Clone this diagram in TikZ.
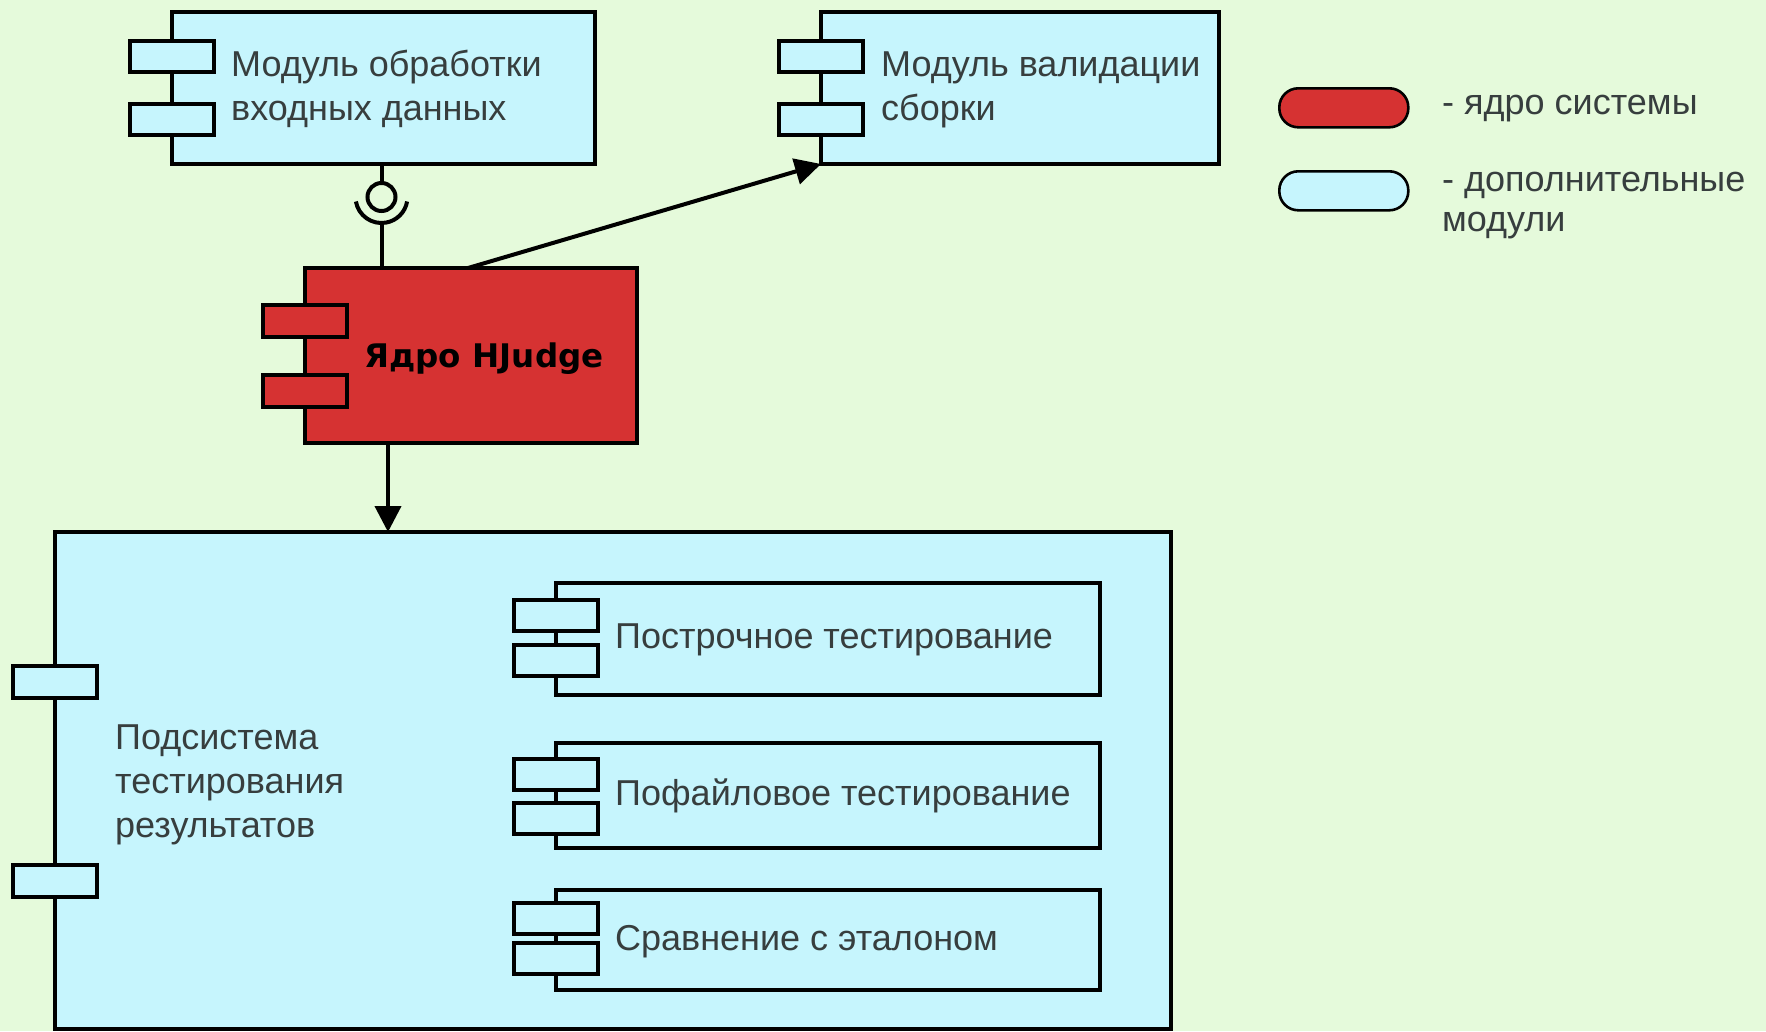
\documentclass[tikz,border=0pt]{standalone}
\usepackage{fontspec}
\setmainfont{Liberation Sans}
\newfontfamily\corefont{DejaVu Sans}
\usetikzlibrary{arrows.meta,calc}
\definecolor{bg}{RGB}{229,250,219}
\definecolor{cyanbox}{RGB}{198,245,253}
\definecolor{redbox}{RGB}{214,50,50}
\definecolor{txt}{RGB}{55,62,62}
\begin{document}
\begin{tikzpicture}[x=1pt,y=-1pt,
  box/.style={draw=black, line width=3.8pt, fill=cyanbox, anchor=north west, inner sep=0pt, outer sep=0pt},
  portc/.style={draw=black, line width=3.6pt, fill=cyanbox, minimum width=84pt, minimum height=31pt, inner sep=0pt, outer sep=0pt, anchor=north},
  lbl/.style={anchor=west, align=left, text=txt, inner sep=0pt, font=\fontsize{36}{41}\selectfont},
  conn/.style={line width=4pt, draw=black},
  tip/.style={-{Triangle[length=26pt,width=26pt]}},
  pill/.style={draw=black, line width=2.6pt, rounded corners=19pt, minimum width=129pt, minimum height=39pt, anchor=north west, inner sep=0pt},
]
\useasboundingbox (0,0) rectangle (1766,1031);
\fill[bg] (0,0) rectangle (1766,1031);

% module 1
\node[box, minimum width=423pt, minimum height=152pt] (m1) at (172,12) {};
\node[portc] (m1p1) at ($(m1.north west)+(0,29)$) {};
\node[portc] (m1p2) at ($(m1.north west)+(0,92)$) {};
\node[lbl, font=\fontsize{36}{44}\selectfont] (m1t) at (231,89) {Модуль обработки\\входных данных};

% module 2
\node[box, minimum width=398pt, minimum height=152pt] (m2) at (821,12) {};
\node[portc] (m2p1) at ($(m2.north west)+(0,29)$) {};
\node[portc] (m2p2) at ($(m2.north west)+(0,92)$) {};
\node[lbl, font=\fontsize{36}{44}\selectfont] (m2t) at (881,90) {Модуль валидации\\сборки};

% core
\node[box, fill=redbox, minimum width=332pt, minimum height=175pt] (core) at (305,268) {};
\node[portc, fill=redbox, minimum height=32pt] (cp1) at ($(core.north west)+(0,37)$) {};
\node[portc, fill=redbox, minimum height=32pt] (cp2) at ($(core.north west)+(0,107)$) {};
\node[anchor=base, inner sep=0pt, font=\corefont\bfseries\fontsize{32.5}{36}\selectfont] (coret) at (484,367) {Ядро HJudge};

% big subsystem
\node[box, minimum width=1116pt, minimum height=497pt] (big) at (55,532) {};
\node[portc, minimum height=32pt] (bp1) at ($(big.north west)+(0,134)$) {};
\node[portc, minimum height=32pt] (bp2) at ($(big.north west)+(0,333)$) {};
\node[lbl, font=\fontsize{36}{44}\selectfont] (bigt) at (115,785) {Подсистема\\тестирования\\результатов};

% sub components
\node[box, minimum width=544pt, minimum height=112pt] (s1) at (556,583) {};
\node[portc] (s1p1) at ($(s1.north west)+(0,17)$) {};
\node[portc] (s1p2) at ($(s1.north west)+(0,62)$) {};
\node[lbl] (s1t) at (615,640) {Построчное тестирование};

\node[box, minimum width=544pt, minimum height=105pt] (s2) at (556,743) {};
\node[portc] (s2p1) at ($(s2.north west)+(0,16)$) {};
\node[portc] (s2p2) at ($(s2.north west)+(0,60)$) {};
\node[lbl] (s2t) at (615,796) {Пофайловое тестирование};

\node[box, minimum width=544pt, minimum height=100pt] (s3) at (556,890) {};
\node[portc] (s3p1) at ($(s3.north west)+(0,13)$) {};
\node[portc] (s3p2) at ($(s3.north west)+(0,53)$) {};
\node[lbl] (s3t) at (615,942) {Сравнение с эталоном};

% legend
\node[pill, fill=redbox] (lr) at (1278,87) {};
\node[pill, fill=cyanbox] (lb) at (1278,170) {};
\node[lbl] (lrt) at (1442,109) {- ядро системы};
\node[lbl, font=\fontsize{36}{40}\selectfont] (lbt) at (1442,206) {- дополнительные\\модули};

% lollipop interface
\coordinate (lol) at ($(m1.south)+(-2,33)$);
\coordinate (sockb) at ($(lol)+(0,26)$);
\coordinate (corein) at (sockb |- core.north);
\draw[conn] ($(m1.south)+(-2,0)$) -- ($(lol)+(0,-14)$);
\draw[conn] (lol) circle[radius=14];
\draw[conn] ($(lol)+(170:26)$) arc[start angle=170, end angle=10, radius=26];
\draw[conn] (sockb) -- (corein);

% arrows
\coordinate (ctop) at ($(core.north west)+(163,0)$);
\draw[conn, tip] (ctop) -- (m2.south west);
\coordinate (cbot) at ($(core.south west)+(83,0)$);
\draw[conn, tip] (cbot) -- (cbot |- big.north);
\end{tikzpicture}
\end{document}
